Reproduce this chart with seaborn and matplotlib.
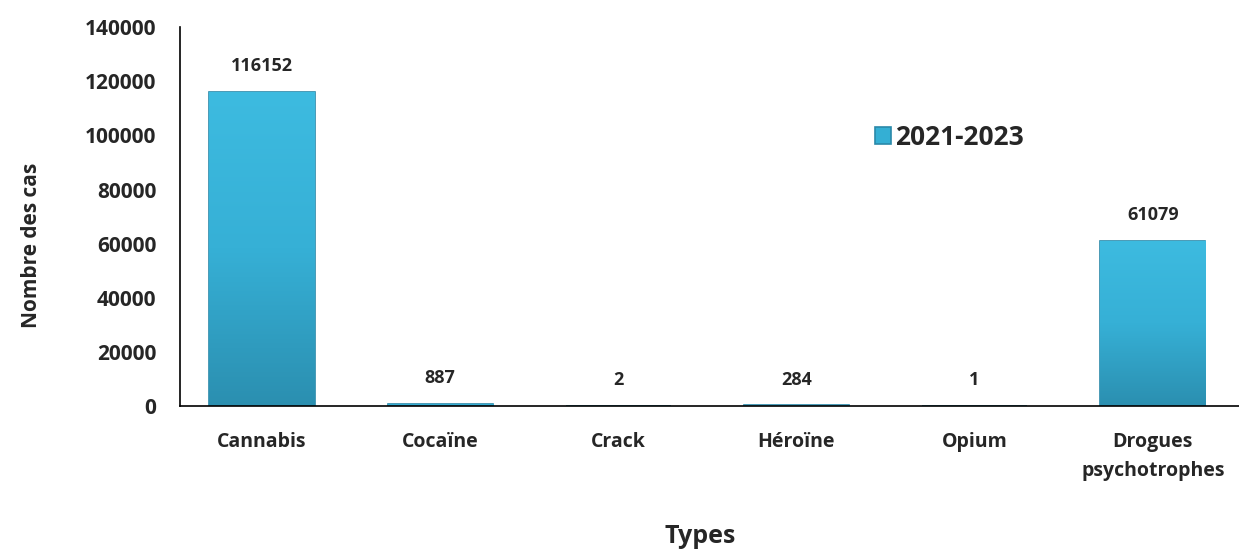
import numpy as np
import pandas as pd
import matplotlib.pyplot as plt
from matplotlib.colors import LinearSegmentedColormap
import seaborn as sns

types = ['Cannabis', 'Cocaïne', 'Crack', 'Héroïne', 'Opium', 'Drogues\npsychotrophes']
cases = [116152, 887, 2, 284, 1, 61079]
period = '2021-2023'

df = pd.DataFrame({'Types': types, 'Cas': cases, 'Période': period})

sns.set_style('white')
plt.rcParams['font.family'] = ['Open Sans', 'DejaVu Sans']
plt.rcParams['font.weight'] = 'bold'

fig = plt.figure(figsize=(12.39, 5.54), dpi=100)
ax = fig.add_axes([0.1453, 0.267, 0.857, 0.684])

sns.barplot(data=df, x='Types', y='Cas', hue='Période', palette=['#34afd4'],
            saturation=1, width=0.59, edgecolor='#2a89a9', linewidth=1.2, ax=ax)

# soft vertical gradient inside each bar
grad_cmap = LinearSegmentedColormap.from_list('bar', ['#2b8fb0', '#36b0d6', '#3dbbe0'])
grad = np.linspace(0, 1, 256).reshape(-1, 1)
for patch in ax.patches:
    x0, y0 = patch.get_x(), patch.get_y()
    w, h = patch.get_width(), patch.get_height()
    if h <= 0:
        continue
    im = ax.imshow(grad, cmap=grad_cmap, origin='lower', aspect='auto',
                   extent=[x0, x0 + w, y0, y0 + h], zorder=patch.get_zorder())
    im.set_clip_path(patch)

for c in ax.containers:
    ax.bar_label(c, labels=[str(v) for v in cases], padding=12,
                 fontsize=13, fontweight='bold')

ax.set_ylim(0, 140000)
ax.set_xlim(-0.46, 5.5)
ax.set_yticks(range(0, 140001, 20000))
ax.tick_params(axis='both', length=0, labelsize=14)
ax.tick_params(axis='y', pad=17, labelsize=15)
ax.tick_params(axis='x', pad=19)
for lab in ax.get_xticklabels() + ax.get_yticklabels():
    lab.set_fontweight('bold')
    lab.set_multialignment('center')
    lab.set_linespacing(1.55)

sns.despine(ax=ax, top=True, right=True)
ax.spines['left'].set_color('black')
ax.spines['bottom'].set_color('black')
ax.spines['left'].set_linewidth(1.2)
ax.spines['bottom'].set_linewidth(1.2)

ax.set_ylabel('Nombre des cas', fontsize=15, fontweight='bold')
ax.yaxis.set_label_coords(-0.130, 0.425)
ax.set_xlabel('Types', fontsize=18, fontweight='bold')
ax.xaxis.set_label_coords(0.49, -0.312)

ax.legend(loc='center left', bbox_to_anchor=(0.632, 0.71), frameon=False,
          prop={'size': 19, 'weight': 'bold'}, handlelength=0.6,
          handleheight=0.6, handletextpad=0.15)

fig.savefig('out.png', dpi=100)
